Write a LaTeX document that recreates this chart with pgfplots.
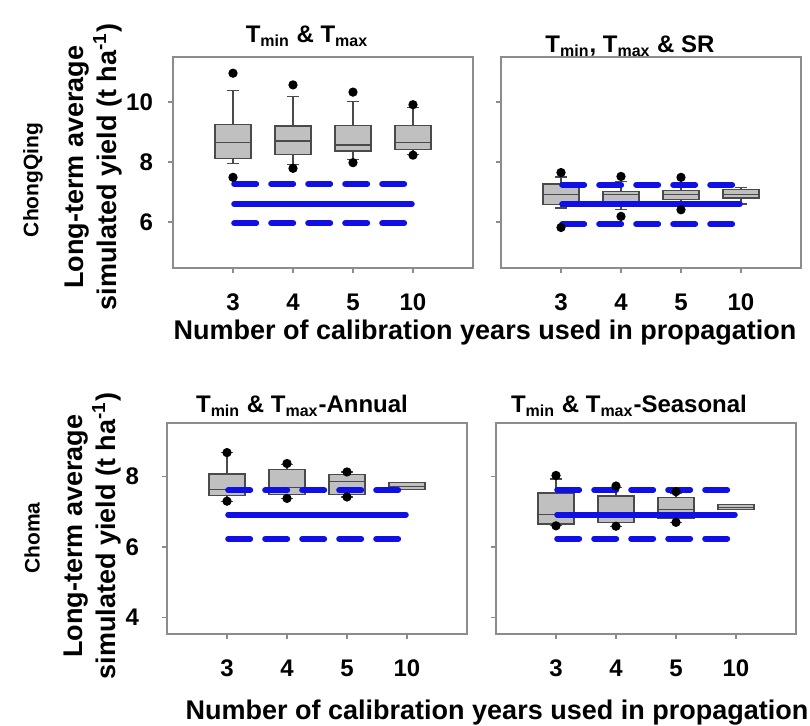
\documentclass[border=0pt]{standalone}
\usepackage{pgfplots}
\pgfplotsset{compat=1.18}
\usepgfplotslibrary{statistics}
\usepackage{fontspec}
\setmainfont{Liberation Sans}

\definecolor{framegray}{HTML}{8C8C8C}
\definecolor{boxfill}{HTML}{C0C0C0}
\definecolor{boxedge}{HTML}{4A4A4A}
\definecolor{lineblue}{HTML}{1010E6}

\pgfplotsset{
  panel/.style={
    width=150pt, height=105.5pt, scale only axis, anchor=south west,
    xmin=0, xmax=5, xtick={1,2,3,4}, xticklabels={3,4,5,10},
    axis line style={draw=framegray, line width=0.8pt},
    tick style={draw=framegray, line width=0.6pt},
    tick align=outside, major tick length=2.5pt,
    xtick pos=lower, ytick pos=left,
    tick label style={font=\fontsize{12}{14}\selectfont\bfseries},
    xticklabel style={anchor=north, yshift=-7pt},
    /pgf/number format/assume math mode=true,
    boxplot/draw direction=y,
    boxplot/box extend=0.6, boxplot/whisker extend=0.2,
  },
  bx/.style={draw=boxedge, fill=boxfill, line width=0.6pt,
    mark=*, mark size=2pt, mark options={draw=black, fill=black}},
  dashline/.style={draw=lineblue, line width=3pt, line cap=round,
    dash pattern=on 11pt off 7.5pt, mark=none},
  solidline/.style={draw=lineblue, line width=3pt, line cap=round, mark=none},
}

\begin{document}
\begin{tikzpicture}
\useasboundingbox (0,0) rectangle (405pt,-363pt);

% ChongQing, Tmin & Tmax
\begin{axis}[panel, at={(86.5pt,-134pt)}, ymin=4.47, ymax=11.5, ytick={6,8,10},
  yticklabel style={xshift=-4pt}]
\addplot[bx, boxplot prepared={draw position=1, lower whisker=7.96, lower quartile=8.12, median=8.64, upper quartile=9.26, upper whisker=10.38}] coordinates {(0,10.96) (0,7.49)};
\addplot[bx, boxplot prepared={draw position=2, lower whisker=7.93, lower quartile=8.26, median=8.70, upper quartile=9.20, upper whisker=10.18}] coordinates {(0,10.57) (0,7.79)};
\addplot[bx, boxplot prepared={draw position=3, lower whisker=8.08, lower quartile=8.37, median=8.57, upper quartile=9.21, upper whisker=10.03}] coordinates {(0,10.33) (0,7.98)};
\addplot[bx, boxplot prepared={draw position=4, lower whisker=8.26, lower quartile=8.43, median=8.64, upper quartile=9.21, upper whisker=9.82}] coordinates {(0,9.91) (0,8.23)};
\addplot[dashline] coordinates {(1.02,7.27) (3.853,7.27)};
\addplot[solidline] coordinates {(1.02,6.60) (3.98,6.60)};
\addplot[dashline] coordinates {(1.02,5.96) (3.853,5.96)};
\end{axis}

% ChongQing, Tmin, Tmax & SR
\begin{axis}[panel, at={(250.5pt,-134pt)}, ymin=4.47, ymax=11.5, ytick={6,8,10},
  yticklabels={}]
\addplot[bx, boxplot prepared={draw position=1, lower whisker=6.47, lower quartile=6.58, median=6.93, upper quartile=7.27, upper whisker=7.50}] coordinates {(0,7.65) (0,5.82)};
\addplot[bx, boxplot prepared={draw position=2, lower whisker=6.41, lower quartile=6.67, median=6.93, upper quartile=7.02, upper whisker=7.35}] coordinates {(0,7.52) (0,6.19)};
\addplot[bx, boxplot prepared={draw position=3, lower whisker=6.58, lower quartile=6.74, median=6.93, upper quartile=7.04, upper whisker=7.19}] coordinates {(0,7.49) (0,6.41)};
\addplot[bx, boxplot prepared={draw position=4, lower whisker=6.60, lower quartile=6.80, median=6.91, upper quartile=7.08, upper whisker=7.15}] coordinates {};
\addplot[dashline] coordinates {(1.02,7.24) (3.853,7.24)};
\addplot[solidline] coordinates {(1.02,6.60) (3.98,6.60)};
\addplot[dashline] coordinates {(1.02,5.93) (3.853,5.93)};
\end{axis}

% Choma, Tmin & Tmax-Annual
\begin{axis}[panel, at={(83.5pt,-317pt)}, ymin=3.53, ymax=9.52, ytick={4,6,8},
  yticklabel style={xshift=-8pt}]
\addplot[bx, boxplot prepared={draw position=1, lower whisker=7.30, lower quartile=7.46, median=7.63, upper quartile=8.07, upper whisker=8.68}] coordinates {(0,8.68) (0,7.30)};
\addplot[bx, boxplot prepared={draw position=2, lower whisker=7.38, lower quartile=7.50, median=7.68, upper quartile=8.21, upper whisker=8.34}] coordinates {(0,8.37) (0,7.38)};
\addplot[bx, boxplot prepared={draw position=3, lower whisker=7.42, lower quartile=7.48, median=7.85, upper quartile=8.05, upper whisker=8.13}] coordinates {(0,8.13) (0,7.42)};
\addplot[bx, boxplot prepared={draw position=4, lower whisker=7.63, lower quartile=7.63, median=7.72, upper quartile=7.82, upper whisker=7.82}] coordinates {};
\addplot[dashline] coordinates {(1.02,7.61) (3.853,7.61)};
\addplot[solidline] coordinates {(1.02,6.92) (3.98,6.92)};
\addplot[dashline] coordinates {(1.02,6.23) (3.853,6.23)};
\end{axis}

% Choma, Tmin & Tmax-Seasonal
\begin{axis}[panel, at={(248pt,-317pt)}, ymin=3.53, ymax=9.52, ytick={4,6,8},
  yticklabels={}]
\addplot[bx, boxplot prepared={draw position=1, lower whisker=6.60, lower quartile=6.65, median=6.92, upper quartile=7.53, upper whisker=7.93}] coordinates {(0,8.03) (0,6.60)};
\addplot[bx, boxplot prepared={draw position=2, lower whisker=6.59, lower quartile=6.69, median=6.92, upper quartile=7.45, upper whisker=7.68}] coordinates {(0,7.73) (0,6.59)};
\addplot[bx, boxplot prepared={draw position=3, lower whisker=6.70, lower quartile=6.82, median=7.06, upper quartile=7.41, upper whisker=7.53}] coordinates {(0,7.57) (0,6.70)};
\addplot[bx, boxplot prepared={draw position=4, lower whisker=7.07, lower quartile=7.07, median=7.13, upper quartile=7.20, upper whisker=7.20}] coordinates {};
\addplot[dashline] coordinates {(1.02,7.62) (3.853,7.62)};
\addplot[solidline] coordinates {(1.02,6.92) (3.98,6.92)};
\addplot[dashline] coordinates {(1.02,6.24) (3.853,6.24)};
\end{axis}

% titles
\begin{scope}[every node/.style={font=\fontsize{12}{14}\selectfont\bfseries, anchor=base}]
\node at (153.5pt,-21.5pt) {T\textsubscript{min} \& T\textsubscript{max}};
\node at (315pt,-26.5pt) {T\textsubscript{min}, T\textsubscript{max} \& SR};
\node at (151pt,-206.5pt) {T\textsubscript{min} \& T\textsubscript{max}-Annual};
\node at (314.5pt,-206.5pt) {T\textsubscript{min} \& T\textsubscript{max}-Seasonal};
\end{scope}

% axis labels
\begin{scope}[every node/.style={font=\fontsize{13.5}{16.5}\selectfont\bfseries}]
\node[anchor=base] at (242.5pt,-170pt) {Number of calibration years used in propagation};
\node[anchor=base] at (248.5pt,-360pt) {Number of calibration years used in propagation};
\node[rotate=90, align=center] at (46.75pt,-83.5pt) {Long-term average\\simulated yield (t ha\textsuperscript{-1})};
\node[rotate=90, align=center] at (46.25pt,-268pt) {Long-term average\\simulated yield (t ha\textsuperscript{-1})};
\end{scope}
\node[rotate=90, font=\fontsize{10.5}{12}\selectfont\bfseries] at (16.5pt,-90pt) {ChongQing};
\node[rotate=90, font=\fontsize{10.5}{12}\selectfont\bfseries] at (16pt,-269pt) {Choma};
\end{tikzpicture}
\end{document}
